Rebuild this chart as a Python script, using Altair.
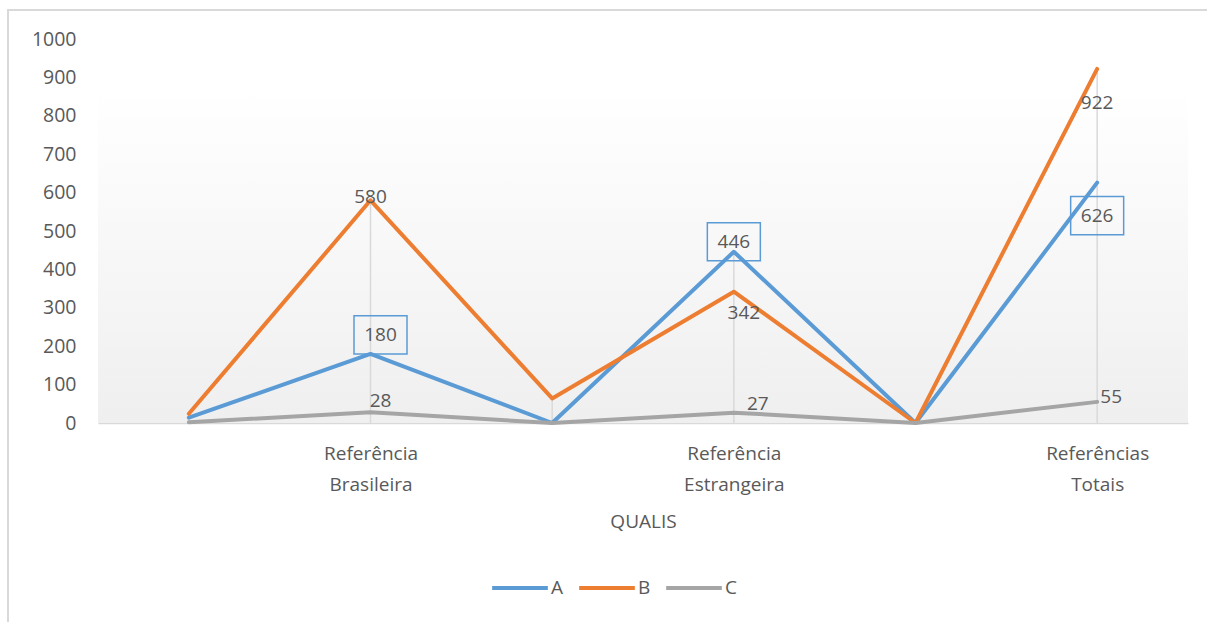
import altair as alt
import pandas as pd

# ---- data ----
cat_labels = ["", "Referência|Brasileira", "", "Referência|Estrangeira", "", "Referências|Totais"]
series_names = ["A", "B", "C"]
values_A = [14, 180, 0, 446, 0, 626]
values_B = [24, 580, 64, 342, 0, 922]
values_C = [2, 28, 0, 27, 0, 55]
colors = ["#5B9BD5", "#ED7D31", "#A5A5A5"]

rows = []
for s, vals in zip(series_names, [values_A, values_B, values_C]):
    for i, v in enumerate(vals):
        rows.append({"idx": i, "series": s, "value": v})
df = pd.DataFrame(rows)

drop = pd.DataFrame({"idx": list(range(len(cat_labels))),
                     "value": [max(a, b, c) for a, b, c in zip(values_A, values_B, values_C)]})

W, H = 1090, 384
FONT = "Open Sans"
TXT = "#595959"

label_js = "[" + ",".join("'" + l + "'" for l in cat_labels) + "]"

x_enc = alt.X("idx:O", title="QUALIS",
              scale=alt.Scale(type="point", padding=0.5),
              axis=alt.Axis(labelExpr=f"split({label_js}[datum.value], '|')",
                            labelAngle=0, ticks=False, domain=True,
                            domainColor="#d9d9d9", domainWidth=1.5,
                            labelFontSize=19, labelColor=TXT, labelFont=FONT,
                            labelLineHeight=31, labelPadding=21,
                            titleFontSize=19, titleColor=TXT, titleFont=FONT,
                            titleFontWeight="normal", titlePadding=18, grid=False))
y_scale = alt.Scale(domain=[0, 1000], nice=False)
y_enc = alt.Y("value:Q", scale=y_scale,
              axis=alt.Axis(values=list(range(0, 1001, 100)), format="d", labelOverlap=False,
                            tickCount=11, grid=False, domain=False,
                            ticks=False, labelFontSize=19.5, labelColor=TXT,
                            labelFont=FONT, labelPadding=22, title=None))

# background gradient
bg = alt.Chart(drop).mark_rect(
    fill=alt.Gradient(gradient="linear",
                      stops=[alt.GradientStop(color="#ffffff", offset=0),
                             alt.GradientStop(color="#efefef", offset=1)],
                      x1=0, x2=0, y1=0, y2=1)
).encode(x=alt.value(0), x2=alt.value(W), y=alt.value(51), y2=alt.value(H))

# outer border
border = alt.Chart(drop).mark_rect(fill=None, stroke="#d9d9d9", strokeWidth=2).encode(
    x=alt.value(-90), x2=alt.value(W + 60), y=alt.value(-29), y2=alt.value(H + 260))

rules = alt.Chart(drop).mark_rule(color="#d9d9d9", strokeWidth=1.5).encode(
    x=x_enc, y=y_enc, y2=alt.datum(0))

lines = alt.Chart(df).mark_line(strokeWidth=4, strokeCap="round", strokeJoin="round").encode(
    x=x_enc, y=y_enc,
    color=alt.Color("series:N", scale=alt.Scale(domain=series_names, range=colors),
                    legend=alt.Legend(title=None, orient="none", legendX=392, legendY=519,
                                      direction="horizontal", symbolType="stroke",
                                      symbolSize=3100, symbolStrokeWidth=4,
                                      labelFontSize=19, labelColor=TXT, labelFont=FONT,
                                      columnPadding=7, labelOffset=1)),
    order=alt.Order("idx:O"))


def text_label(series, idx, dx, dy):
    return alt.Chart(df).transform_filter(
        (alt.datum.series == series) & (alt.datum.idx == idx)
    ).mark_text(dx=dx, dy=dy, fontSize=19, font=FONT, color=TXT).encode(
        x=x_enc, y=y_enc, text="value:Q")


def box_label(series, idx, dx, dy):
    box = alt.Chart(df).transform_filter(
        (alt.datum.series == series) & (alt.datum.idx == idx)
    ).mark_point(shape="M-1,-0.72L1,-0.72L1,0.72L-1,0.72Z", size=2809, filled=False,
                 stroke="#5B9BD5", strokeWidth=1.5, opacity=1, xOffset=dx, yOffset=dy).encode(
        x=x_enc, y=y_enc)
    return box + text_label(series, idx, dx, dy)


labels = [
    box_label("A", 1, 10, -19),
    box_label("A", 3, 0, -10),
    box_label("A", 5, 0, 33),
    text_label("B", 1, 0, -3),
    text_label("B", 3, 10, 21),
    text_label("B", 5, 0, 34),
    text_label("C", 1, 10, -11),
    text_label("C", 3, 24, -9),
    text_label("C", 5, 14, -5),
]

chart = alt.layer(bg, border, rules, lines, *labels).properties(
    width=W, height=H,
    padding={"left": 98, "top": 39, "right": 19, "bottom": 199},
    autosize=alt.AutoSizeParams(type="none"),
).configure(background="white").configure_view(stroke="transparent", strokeWidth=0)

chart.save("out.html", embed_options={"renderer": "svg", "actions": False})
